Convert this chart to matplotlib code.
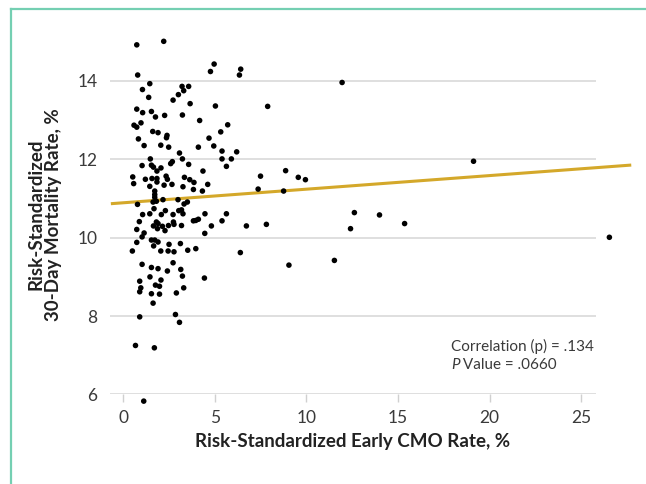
import matplotlib
matplotlib.use("Agg")
from matplotlib import pyplot as plt
from matplotlib.lines import Line2D

plt.rcParams['font.family'] = ['Lato', 'DejaVu Sans']

# hospital-level rates
cmo_rate = [
    0.75, 2.22, 0.80, 4.97, 4.77, 6.42, 6.35, 1.46, 1.06, 1.40, 3.22, 3.58, 3.31, 3.02, 2.73, 3.66, 5.04, 7.89, 0.75,
    1.07, 1.55, 1.77, 2.27, 3.24, 4.18, 0.60, 0.75, 0.98, 1.62, 1.91, 2.40, 2.37, 0.84, 1.15, 2.06, 2.49, 5.71, 5.33,
    4.69, 4.11, 4.95, 5.40, 6.20, 3.08, 1.49, 3.24, 5.40, 5.91, 1.04, 1.55, 1.66, 1.85, 2.07, 2.60, 2.69, 3.58, 4.36, 5.64,
    0.53, 0.58, 1.22, 1.46, 1.58, 1.85, 1.85, 2.35, 2.42, 2.24, 2.67, 3.35, 3.64, 3.87, 3.27, 3.84, 4.62, 4.33, 7.50, 7.37,
    1.73, 1.73, 1.73, 1.64, 1.82, 2.18, 3.00, 3.51, 3.33, 0.79, 1.69, 1.46, 1.07, 2.09, 2.31, 3.04, 3.19, 3.27, 2.73, 4.47,
    5.64, 0.89, 1.82, 1.91, 1.66, 1.88, 2.15, 2.48, 2.29, 2.75, 2.78, 3.19, 3.84, 3.97, 4.11, 4.82, 5.40, 4.46, 6.73, 7.82,
    0.75, 1.15, 1.04,
    0.75, 0.51, 1.55, 1.73, 1.91, 1.67, 2.51, 3.13, 2.06, 2.46, 2.78, 3.53, 3.97, 6.40, 1.04, 1.55, 1.91, 2.73, 2.42, 3.15,
    1.47, 3.24, 4.44, 0.91, 2.07, 1.77, 1.99, 0.97, 0.91, 1.55, 1.99, 2.91, 3.31, 1.64,
    0.91, 2.86, 3.08, 0.68, 1.71, 1.13,
    11.95, 8.87, 9.56, 9.95, 8.76, 19.12, 12.62, 13.99, 15.36, 12.41, 26.53, 9.05, 11.53,
]
mortality_rate = [
    14.92, 15.01, 14.15, 14.43, 14.24, 14.30, 14.15, 13.93, 13.78, 13.58, 13.86, 13.86, 13.75, 13.65, 13.51, 13.42, 13.36, 13.35, 13.28,
    13.19, 13.22, 13.08, 13.12, 13.13, 12.99, 12.87, 12.82, 12.93, 12.71, 12.68, 12.61, 12.55, 12.52, 12.35, 12.36, 12.31, 12.88, 12.70,
    12.54, 12.31, 12.34, 12.21, 12.19, 12.16, 12.01, 12.01, 12.01, 12.01, 11.84, 11.85, 11.80, 11.70, 11.78, 11.89, 11.94, 11.87, 11.70, 11.82,
    11.55, 11.38, 11.49, 11.31, 11.51, 11.51, 11.42, 11.57, 11.49, 11.34, 11.36, 11.54, 11.48, 11.41, 11.30, 11.23, 11.36, 11.19, 11.57, 11.24,
    11.19, 11.10, 11.03, 10.91, 10.93, 10.97, 10.97, 10.91, 10.86, 10.85, 10.74, 10.61, 10.59, 10.59, 10.69, 10.69, 10.71, 10.61, 10.59, 10.61,
    10.61, 10.41, 10.40, 10.36, 10.30, 10.23, 10.29, 10.31, 10.18, 10.40, 10.34, 10.31, 10.43, 10.44, 10.47, 10.30, 10.43, 10.11, 10.30, 10.34,
    10.21, 10.12, 10.02,
    9.88, 9.66, 9.94, 9.94, 9.89, 9.79, 9.83, 9.85, 9.66, 9.66, 9.64, 9.68, 9.72, 9.62, 9.32, 9.24, 9.21, 9.36, 9.15, 9.19,
    9.00, 9.02, 8.97, 8.89, 8.92, 8.79, 8.76, 8.72, 8.62, 8.57, 8.56, 8.59, 8.72, 8.33,
    7.98, 8.04, 7.84, 7.25, 7.19, 5.83,
    13.96, 11.71, 11.54, 11.48, 11.19, 11.95, 10.64, 10.58, 10.36, 10.23, 10.01, 9.30, 9.42,
]

# fitted line, as drawn in the reference
trend_x = [-0.58, 27.64]
trend_y = [10.87, 11.85]

x_ticks = [0, 5, 10, 15, 20, 25]
y_ticks = [6, 8, 10, 12, 14]

corr_text = "Correlation (p) = .134"
p_letter = "P"
p_rest = " Value = .0660"

text_color = '#3a3a3a'

fig = plt.figure(figsize=(6.46, 4.84), dpi=100)
ax = fig.add_axes([0.170, 0.185, 0.7526, 0.745])
ax.set_xlim(-0.72, 25.8)
ax.set_ylim(6, 15.2)

for s in ax.spines.values():
    s.set_visible(False)

ax.set_yticks(y_ticks)
ax.set_xticks(x_ticks)
ax.grid(axis='y', color='#d9d9d9', linewidth=1.2, zorder=0)
ax.tick_params(axis='y', length=0, pad=9, labelsize=12.5, labelcolor=text_color)
ax.tick_params(axis='x', length=6, width=1, color='#d0d0d0', pad=5,
               labelsize=12.5, labelcolor=text_color)

ax.plot(trend_x, trend_y, color='#d4a82a', linewidth=2.2, zorder=2, clip_on=False)
ax.scatter(cmo_rate, mortality_rate, s=16, color='black', edgecolors='none',
           zorder=3, clip_on=False)

ax.text(17.88, 7.23, corr_text, fontsize=11, color=text_color,
        va='center', ha='left')
p_txt = ax.text(17.88, 6.75, p_letter, fontsize=11, color=text_color,
                fontstyle='italic', va='center', ha='left')
ax.annotate(p_rest, xy=(1, 0), xycoords=p_txt, fontsize=11, color=text_color,
            va='bottom', ha='left')

ax.set_xlabel("Risk-Standardized Early CMO Rate, %", fontsize=13.5,
              fontweight='bold', color='#222222', labelpad=5)
ax.set_ylabel("Risk-Standardized\n30-Day Mortality Rate, %", fontsize=13.5,
              fontweight='bold', color='#222222', labelpad=11, linespacing=1.05)

# teal frame on left and top
frame_color = '#74cfb2'
fig.add_artist(Line2D([11 / 646, 11 / 646], [0, 1 - 9 / 484], color=frame_color,
                      linewidth=1.6, transform=fig.transFigure))
fig.add_artist(Line2D([11 / 646, 1], [1 - 9 / 484, 1 - 9 / 484], color=frame_color,
                      linewidth=1.6, transform=fig.transFigure))

plt.savefig("out.png", dpi=100)
